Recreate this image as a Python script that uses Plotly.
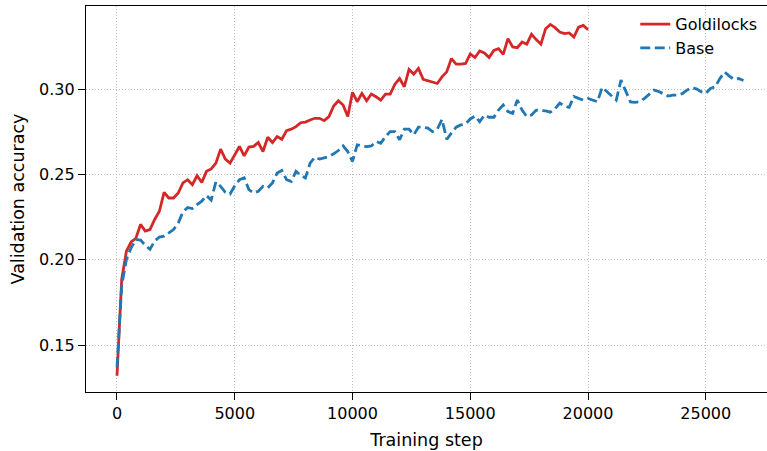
import plotly.graph_objects as go

eval_interval = 200
goldilocks_steps = list(range(0, 20001, eval_interval))
base_steps = list(range(0, 26601, eval_interval))

goldilocks_acc = [
    0.132, 0.1886, 0.205, 0.2105, 0.2125, 0.2207, 0.2168, 0.2177, 0.2236, 0.2284,
    0.2395, 0.2362, 0.2362, 0.2391, 0.245, 0.2469, 0.244, 0.2492, 0.2453, 0.2518,
    0.2532, 0.2566, 0.2648, 0.259, 0.2566, 0.2615, 0.2664, 0.2609, 0.266, 0.2664,
    0.2687, 0.2634, 0.2718, 0.2687, 0.2722, 0.2706, 0.2757, 0.2765, 0.278, 0.2803,
    0.2807, 0.2819, 0.2829, 0.2829, 0.2815, 0.2839, 0.2901, 0.2932, 0.2907, 0.2839,
    0.2981, 0.2926, 0.2975, 0.2932, 0.2971, 0.2955, 0.2936, 0.2971, 0.2971, 0.3029,
    0.3062, 0.3014, 0.3115, 0.3088, 0.3121, 0.3057, 0.3049, 0.3045, 0.3033, 0.3072,
    0.3101, 0.3179, 0.3146, 0.3146, 0.315, 0.3206, 0.3185, 0.3223, 0.3212, 0.3185,
    0.3227, 0.3237, 0.3204, 0.3296, 0.3247, 0.3243, 0.3276, 0.3263, 0.3321, 0.329,
    0.3263, 0.3354, 0.3379, 0.336, 0.3334, 0.3325, 0.3329, 0.3305, 0.3363, 0.3373,
    0.3348,
]

base_acc = [
    0.137, 0.185, 0.2002, 0.207, 0.2119, 0.2115, 0.2085, 0.2061, 0.211, 0.2133,
    0.2138, 0.2155, 0.2177, 0.2215, 0.228, 0.2306, 0.23, 0.2323, 0.2343, 0.2376,
    0.235, 0.2457, 0.243, 0.2395, 0.2385, 0.2434, 0.2469, 0.248, 0.2411, 0.2391,
    0.2401, 0.243, 0.2421, 0.245, 0.2508, 0.2523, 0.2469, 0.2459, 0.2518, 0.2495,
    0.2479, 0.2566, 0.2601, 0.259, 0.2596, 0.2605, 0.2621, 0.264, 0.2667, 0.2634,
    0.2576, 0.2673, 0.2667, 0.2663, 0.2667, 0.2693, 0.2683, 0.2722, 0.2751, 0.2751,
    0.2703, 0.2765, 0.2765, 0.2732, 0.2777, 0.2777, 0.2771, 0.2751, 0.2765, 0.2823,
    0.2706, 0.2745, 0.2777, 0.279, 0.2796, 0.2825, 0.2842, 0.2809, 0.2848, 0.2835,
    0.2835, 0.2877, 0.2907, 0.2868, 0.2858, 0.2936, 0.2877, 0.2839, 0.2848, 0.2877,
    0.2875, 0.2872, 0.2865, 0.2885, 0.2918, 0.2901, 0.2893, 0.2957, 0.2946, 0.2936,
    0.2945, 0.2936, 0.2926, 0.301, 0.2985, 0.2965, 0.2936, 0.3053, 0.2985, 0.2925,
    0.2922, 0.2926, 0.2946, 0.297, 0.2994, 0.2986, 0.2971, 0.2959, 0.2965, 0.2965,
    0.2973, 0.2994, 0.3008, 0.3002, 0.2985, 0.2975, 0.3004, 0.3013, 0.3062, 0.31,
    0.3076, 0.3057, 0.3062, 0.305,
]

x_ticks = [0, 5000, 10000, 15000, 20000, 25000]
y_ticks = [0.15, 0.20, 0.25, 0.30]

FONT = "DejaVu Sans"

fig = go.Figure()
fig.add_trace(go.Scatter(
    x=goldilocks_steps, y=goldilocks_acc, mode="lines", name="Goldilocks",
    line=dict(color="#d62728", width=2.8),
))
fig.add_trace(go.Scatter(
    x=base_steps, y=base_acc, mode="lines", name="Base",
    line=dict(color="#1f77b4", width=2.8, dash="10px,4.5px"),
))

axis_common = dict(
    showline=True, linecolor="black", linewidth=1.3,
    ticks="outside", ticklen=7, tickwidth=1.3, tickcolor="black",
    showgrid=True, gridcolor="#bdbdbd", gridwidth=1, griddash="1px,2px",
    zeroline=False,
    tickfont=dict(family=FONT, size=16, color="black"),
)

fig.update_layout(
    width=767, height=451,
    margin=dict(l=86, r=0, t=6, b=59),
    paper_bgcolor="white", plot_bgcolor="white",
    font=dict(family=FONT, color="black"),
    showlegend=True,
    legend=dict(
        x=0.993, y=0.997, xanchor="right", yanchor="top",
        bgcolor="rgba(0,0,0,0)", borderwidth=0,
        font=dict(family=FONT, size=16, color="black"),
        tracegroupgap=0, itemwidth=30,
    ),
    xaxis=dict(
        range=[-1316, 27600], tickvals=x_ticks,
        ticktext=[str(v) for v in x_ticks],
        mirror=True,
        title=dict(text="Training step", font=dict(family=FONT, size=17.5), standoff=11),
        **axis_common,
    ),
    yaxis=dict(
        range=[0.1225, 0.3487], tickvals=y_ticks,
        ticktext=[f"{v:.2f}" for v in y_ticks],
        title=dict(text="Validation accuracy", font=dict(family=FONT, size=17.5), standoff=9),
        **axis_common,
    ),
)

fig.write_html("out.html")
